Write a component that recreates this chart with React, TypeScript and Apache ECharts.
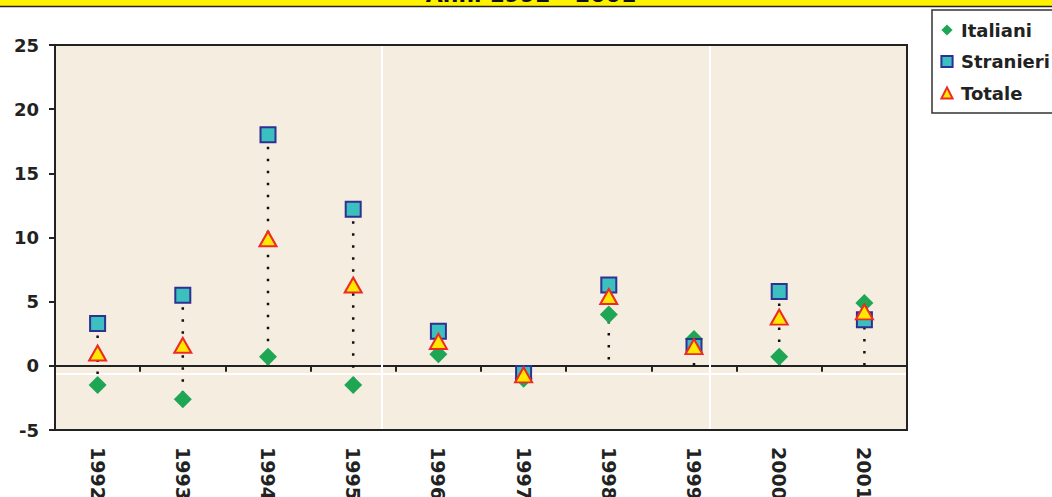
import React, { useEffect, useRef } from "react";
import * as echarts from "echarts";

const categories = ["1992", "1993", "1994", "1995", "1996", "1997", "1998", "1999", "2000", "2001"];
const italiani = [-1.5, -2.6, 0.7, -1.5, 0.9, -1.0, 4.0, 2.1, 0.7, 4.9];
const stranieri = [3.3, 5.5, 18.0, 12.2, 2.7, -0.6, 6.3, 1.5, 5.8, 3.6];
const totale = [1.0, 1.6, 9.9, 6.3, 1.9, -0.7, 5.4, 1.5, 3.8, 4.2];
const yTicks = { min: -5, max: 25, interval: 5 };
const titleText = "Anni 1992 - 2001";

const FONT = "'DejaVu Sans', 'Liberation Sans', Arial, sans-serif";

export default function App() {
  const ref = useRef<HTMLDivElement>(null);
  useEffect(() => {
    if (!ref.current) return;
    const chart = echarts.init(ref.current, undefined, { renderer: "svg" });
    const drops = categories.map((_, i) => {
      const vals = [0, italiani[i], stranieri[i], totale[i]];
      return [i, Math.max(...vals), Math.min(...vals)];
    });
    chart.setOption({
      animation: false,
      backgroundColor: "#ffffff",
      grid: {
        left: 55,
        right: 145,
        top: 45,
        bottom: 67,
        show: true,
        containLabel: false,
        outerBoundsMode: "none",
        backgroundColor: "#f5ede0",
        borderColor: "#222",
        borderWidth: 2,
      },
      graphic: [
        { type: "rect", z: 10, shape: { x: 0, y: -10, width: 1052, height: 16 }, style: { fill: "#fff200" } },
        {
          type: "text",
          z: 11,
          x: 531,
          y: 5,
          style: {
            text: titleText,
            fill: "#111",
            font: "bold 22px " + FONT,
            textAlign: "center",
            textVerticalAlign: "bottom",
          },
        },
        { type: "line", z: 12, shape: { x1: 0, y1: 6.5, x2: 1052, y2: 6.5 }, style: { stroke: "#222", lineWidth: 1.5 } },
        { type: "line", z: 1, shape: { x1: 382, y1: 46, x2: 382, y2: 429 }, style: { stroke: "#ffffff", lineWidth: 2 } },
        { type: "line", z: 1, shape: { x1: 710, y1: 46, x2: 710, y2: 429 }, style: { stroke: "#ffffff", lineWidth: 2 } },
        { type: "line", z: 1, shape: { x1: 56, y1: 374, x2: 906, y2: 374 }, style: { stroke: "#ffffff", lineWidth: 2 } },
      ],
      legend: {
        orient: "vertical",
        left: 932,
        top: 10,
        padding: [10, 30, 10, 8],
        backgroundColor: "#ffffff",
        borderColor: "#333",
        borderWidth: 1.5,
        borderRadius: 0,
        itemWidth: 14,
        itemHeight: 14,
        itemGap: 11.5,
        textStyle: {
          fontFamily: FONT,
          fontWeight: "bold",
          fontSize: 18,
          color: "#222",
          lineHeight: 20,
          padding: [0, 0, 0, 2],
        },
        data: ["Italiani", "Stranieri", "Totale"],
      },
      xAxis: [
        {
          type: "category",
          data: categories,
          position: "bottom",
          axisLine: { show: false, onZero: false },
          axisTick: { show: false },
          splitLine: { show: false },
          axisLabel: {
            rotate: -90,
            margin: 17,
            fontFamily: FONT,
            fontWeight: "bold",
            fontSize: 19,
            color: "#222",
          },
        },
        {
          type: "category",
          data: categories,
          position: "bottom",
          axisLine: { show: true, onZero: true, lineStyle: { color: "#222", width: 2 } },
          axisTick: { show: true, length: 6, lineStyle: { color: "#222", width: 2 } },
          axisLabel: { show: false },
          splitLine: { show: false },
        },
      ],
      yAxis: {
        type: "value",
        min: yTicks.min,
        max: yTicks.max,
        interval: yTicks.interval,
        axisLine: { show: true, lineStyle: { color: "#222", width: 2 } },
        axisTick: { show: true, length: 6, lineStyle: { color: "#222", width: 2 } },
        splitLine: { show: false },
        axisLabel: {
          margin: 16,
          fontFamily: FONT,
          fontWeight: "bold",
          fontSize: 18,
          color: "#222",
        },
      },
      series: [
        {
          type: "custom",
          name: "drop",
          z: 1,
          silent: true,
          data: drops,
          renderItem: (params: any, api: any) => {
            const x = api.value(0);
            const p1 = api.coord([x, api.value(1)]);
            const p2 = api.coord([x, api.value(2)]);
            return {
              type: "line",
              shape: { x1: p1[0], y1: p1[1], x2: p2[0], y2: p2[1] },
              style: { stroke: "#111", lineWidth: 2.5, lineDash: [2.5, 9.5] },
            };
          },
        },
        {
          type: "line",
          name: "Italiani",
          data: italiani,
          z: 3,
          symbol: "diamond",
          symbolSize: 18,
          lineStyle: { width: 0, opacity: 0 },
          itemStyle: { color: "#1fa654", borderWidth: 0 },
        },
        {
          type: "line",
          name: "Stranieri",
          data: stranieri,
          z: 4,
          symbol: "rect",
          symbolSize: 15,
          lineStyle: { width: 0, opacity: 0 },
          itemStyle: { color: "#3cbfbf", borderColor: "#2e3192", borderWidth: 2 },
        },
        {
          type: "line",
          name: "Totale",
          data: totale,
          z: 5,
          symbol: "triangle",
          symbolSize: [17, 15],
          lineStyle: { width: 0, opacity: 0 },
          itemStyle: { color: "#ffe800", borderColor: "#ee2a24", borderWidth: 2 },
        },
      ],
    });
    return () => chart.dispose();
  }, []);
  return <div ref={ref} style={{ position: "fixed", left: 0, top: 0, width: 1052, height: 497 }} />;
}
